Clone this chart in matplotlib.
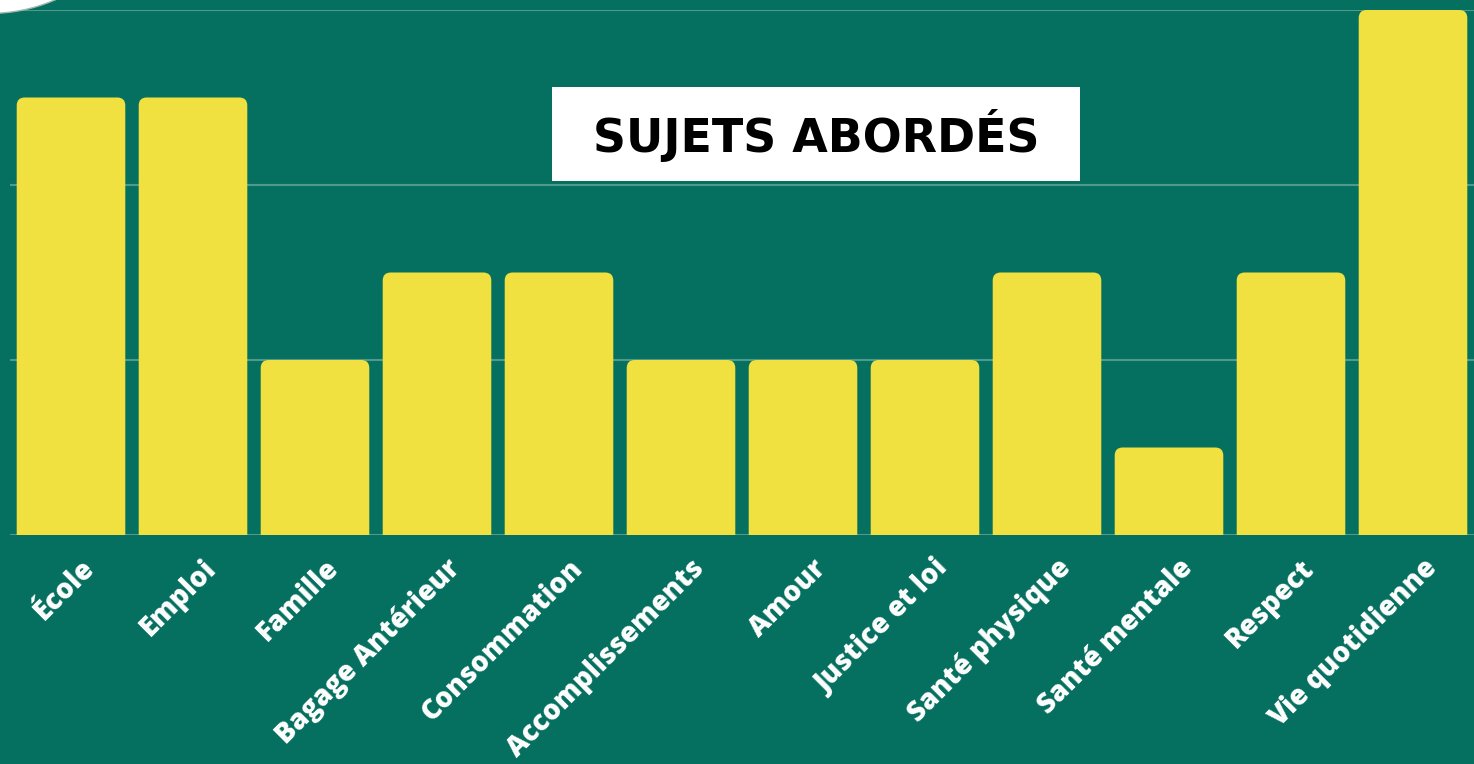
import numpy as np
import matplotlib
matplotlib.use('agg')
import matplotlib.pyplot as plt
from matplotlib.patches import FancyBboxPatch, Rectangle, Ellipse

categories = ['École', 'Emploi', 'Famille', 'Bagage Antérieur', 'Consommation',
              'Accomplissements', 'Amour', 'Justice et loi', 'Santé physique',
              'Santé mentale', 'Respect', 'Vie quotidienne']
values = [5, 5, 2, 3, 3, 2, 2, 2, 3, 1, 3, 6]
title = 'SUJETS ABORDÉS'

bg = '#05705F'
yellow = '#F0E140'
grid_col = '#4E9A8D'

W, H = 1474, 764
fig = plt.figure(figsize=(W / 100, H / 100), dpi=100)
fig.patch.set_facecolor(bg)

ax_l, ax_r, ax_t, ax_b = 10, 1474, 10, 535
ax = fig.add_axes([ax_l / W, 1 - ax_b / H, (ax_r - ax_l) / W, (ax_b - ax_t) / H])
ax.set_facecolor(bg)
n = len(categories)
ax.set_xlim(-0.5, n - 0.5)
ax.set_ylim(0, 6)
for s in ax.spines.values():
    s.set_visible(False)
ax.set_xticks([])
ax.set_yticks([])

for g in [0, 2, 4, 6]:
    ax.axhline(g, color=grid_col, lw=1.5, zorder=1)

# rounded-top bars
bw = 0.89
px_x = (n) / (ax_r - ax_l)      # data units per px in x
px_y = 6 / (ax_b - ax_t)        # data units per px in y
r = 8 * px_x
x = np.arange(n)
for xi, v in zip(x, values):
    p = FancyBboxPatch((xi - bw / 2, -0.5), bw, v + 0.5,
                       boxstyle='round,pad=0,rounding_size=%f' % r,
                       mutation_aspect=px_y / px_x,
                       fc=yellow, ec='none', zorder=2, clip_on=True)
    ax.add_patch(p)

# tick labels
for xi, lab in zip(x, categories):
    ax.annotate(lab, xy=(xi, 0), xycoords='data', xytext=(9, -19),
                textcoords='offset pixels', rotation=45, rotation_mode='anchor',
                ha='right', va='top', color='white', fontsize=19.8,
                fontweight=800, family=['Open Sans', 'DejaVu Sans'],
                annotation_clip=False)

# title box
fig.patches.append(Rectangle((552 / W, 1 - 181 / H), (1080 - 552) / W, (181 - 87) / H,
                             transform=fig.transFigure, fc='white', ec='none', zorder=5))
fig.text((552 + 1080) / 2 / W, 1 - 135 / H, title, ha='center', va='center',
         fontsize=33, fontweight='bold', family=['DejaVu Sans'],
         color='black', zorder=6)

# white circle peeking in at top-left corner
fig.patches.append(Ellipse((-10 / W, 1 + 150 / H), 2 * 163.4 / W, 2 * 163.4 / H,
                           transform=fig.transFigure, fc='white', ec='#9fb8b2',
                           lw=1, zorder=6))

fig.savefig('out.png', dpi=100, facecolor=bg)
